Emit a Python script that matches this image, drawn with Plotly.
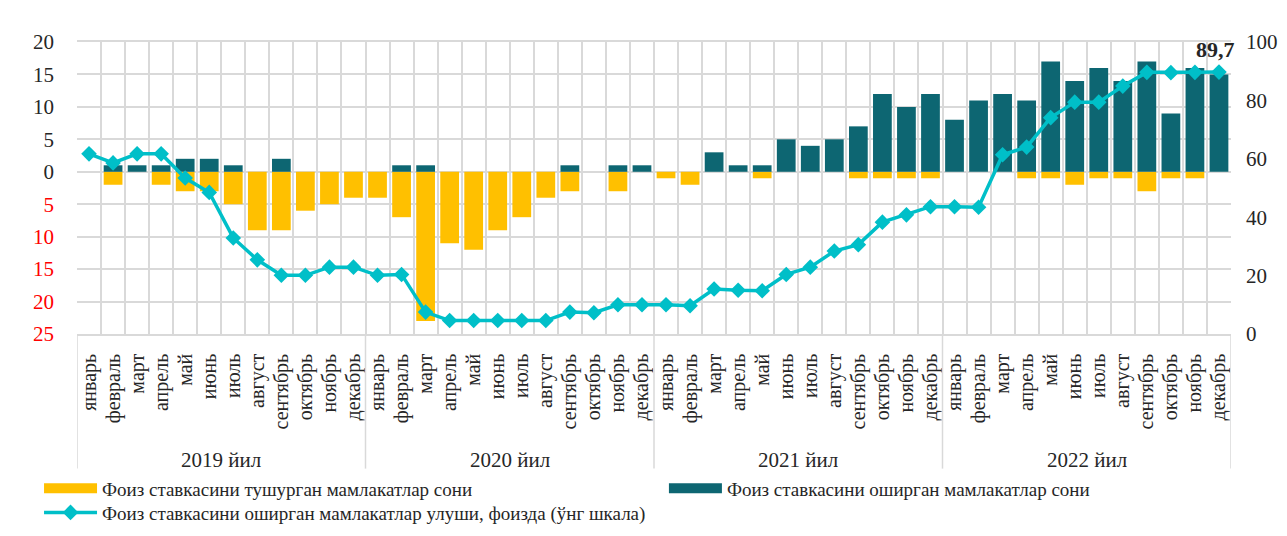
import plotly.graph_objects as go

months = ["январь", "февраль", "март", "апрель", "май", "июнь", "июль",
          "август", "сентябрь", "октябрь", "ноябрь", "декабрь"]
years = ["2019 йил", "2020 йил", "2021 йил", "2022 йил"]

# number of countries that cut the policy rate (shown below zero)
cut_2019 = [0, 2, 0, 2, 3, 3, 5, 9, 9, 6, 5, 4]
cut_2020 = [4, 7, 23, 11, 12, 9, 7, 4, 3, 0, 3, 0]
cut_2021 = [1, 2, 0, 0, 1, 0, 0, 0, 1, 1, 1, 1]
cut_2022 = [0, 0, 0, 1, 1, 2, 1, 1, 3, 1, 1, 0]

# number of countries that raised the policy rate
hike_2019 = [0, 1, 1, 1, 2, 2, 1, 0, 2, 0, 0, 0]
hike_2020 = [0, 1, 1, 0, 0, 0, 0, 0, 1, 0, 1, 1]
hike_2021 = [0, 0, 3, 1, 1, 5, 4, 5, 7, 12, 10, 12]
hike_2022 = [8, 11, 12, 11, 17, 14, 16, 14, 17, 9, 16, 15]

# share of countries that raised the rate, % (right axis)
share_2019 = [61.7, 58.6, 61.7, 61.7, 53.4, 48.5, 32.9, 25.4, 20.1, 20.1, 22.9, 22.9]
share_2020 = [20.1, 20.4, 7.5, 4.6, 4.6, 4.6, 4.6, 4.6, 7.5, 7.3, 10.0, 10.0]
share_2021 = [10.0, 9.7, 15.4, 15.0, 14.8, 20.4, 22.9, 28.4, 30.6, 38.3, 40.8, 43.6]
share_2022 = [43.6, 43.4, 61.4, 64.0, 74.1, 79.4, 79.4, 84.9, 89.6, 89.5, 89.6, 89.7]

left_ticks = [-25, -20, -15, -10, -5, 0, 5, 10, 15, 20]
right_ticks = [0, 20, 40, 60, 80, 100]

name_cut = "Фоиз ставкасини тушурган мамлакатлар сони"
name_hike = "Фоиз ставкасини оширган мамлакатлар сони"
name_share = "Фоиз ставкасини оширган мамлакатлар улуши, фоизда (ўнг шкала)"

cuts = cut_2019 + cut_2020 + cut_2021 + cut_2022
hikes = hike_2019 + hike_2020 + hike_2021 + hike_2022
share = share_2019 + share_2020 + share_2021 + share_2022
labels = months * len(years)
xs = list(range(len(labels)))

YELLOW = "#FFC000"
TEAL = "#0D6672"
CYAN = "#00BFC8"
GRID = "#D9D9D9"
TXT = "#262626"
FONT = "Liberation Serif, Times New Roman, serif"

fig = go.Figure()
fig.add_trace(go.Bar(x=xs, y=[-c for c in cuts], marker=dict(color=YELLOW, line=dict(width=0)),
                     name=name_cut, showlegend=False))
fig.add_trace(go.Bar(x=xs, y=hikes, marker=dict(color=TEAL, line=dict(width=0)),
                     name=name_hike, showlegend=False))
fig.add_trace(go.Scatter(x=xs, y=share, yaxis="y2", mode="lines+markers",
                         line=dict(color=CYAN, width=3.5),
                         marker=dict(symbol="diamond", size=12, color=CYAN),
                         name=name_share, legend="legend3"))

# legend swatches (wide rectangles like the original)
fig.add_trace(go.Scatter(x=[None], y=[None], mode="lines", line=dict(color=YELLOW, width=13),
                         name=name_cut, legend="legend"))
fig.add_trace(go.Scatter(x=[None], y=[None], mode="lines", line=dict(color=TEAL, width=13),
                         name=name_hike, legend="legend2"))

ticktext = [str(v) if v >= 0 else f'<span style="color:#FF0000">{abs(v)}</span>' for v in left_ticks]

n = len(labels)
leg_common = dict(orientation="v", yanchor="top", xanchor="left",
                  font=dict(size=19, family=FONT, color=TXT),
                  itemwidth=53, bgcolor="rgba(0,0,0,0)", tracegroupgap=0)
fig.update_layout(
    width=1287, height=536,
    # page body has an 8px default margin; offsets compensate so the plot sits where it should
    margin=dict(l=69, r=64, t=34, b=207),
    paper_bgcolor="white", plot_bgcolor="white",
    font=dict(family=FONT, color=TXT, size=20),
    barmode="relative", bargap=0.22,
    showlegend=True,
    legend=dict(x=-0.0329, y=-0.464, **leg_common),
    legend2=dict(x=0.5086, y=-0.464, **leg_common),
    legend3=dict(x=-0.0329, y=-0.5464, **leg_common),
    xaxis=dict(range=[-0.5, n - 0.5], tickmode="array", tickvals=xs, ticktext=labels,
               tickangle=-90, tickfont=dict(size=20, family=FONT, color=TXT),
               showgrid=False, zeroline=False, automargin=False,
               showline=True, mirror=True, linecolor=GRID, linewidth=1.5,
               ticks="", ticklabelstandoff=10,
               minor=dict(tick0=0.5, dtick=1, showgrid=True, gridcolor=GRID, gridwidth=1.5)),
    yaxis=dict(range=[-25, 20], tickmode="array", tickvals=left_ticks, ticktext=ticktext,
               tickfont=dict(size=21, family=FONT, color=TXT),
               showgrid=True, gridcolor=GRID, gridwidth=1.5, zeroline=False,
               automargin=False, ticklabelstandoff=22),
    yaxis2=dict(range=[0, 100], tickmode="array", tickvals=right_ticks, overlaying="y", side="right",
                tickfont=dict(size=21, family=FONT, color=TXT),
                showgrid=False, zeroline=False, automargin=False, ticklabelstandoff=14),
)

# year group labels and dividers below the month labels
for k, yl in enumerate(years):
    fig.add_annotation(x=k * 12 + 5.5, xref="x", y=-0.43, yref="paper", text=yl,
                       showarrow=False, font=dict(size=21, family=FONT, color=TXT),
                       yanchor="middle")
for k in range(len(years) + 1):
    fig.add_shape(type="line", xref="x", yref="paper", x0=k * 12 - 0.5, x1=k * 12 - 0.5,
                  y0=0, y1=-0.461, line=dict(color=GRID, width=1.5))

# chart-area left border
fig.add_shape(type="line", xref="paper", yref="paper", x0=-0.0607, x1=-0.0607,
              y0=1.15, y1=-0.68, line=dict(color=GRID, width=1.5))

# last value label
fig.add_annotation(x=xs[-1], y=share[-1], xref="x", yref="y2", text="<b>89,7</b>",
                   showarrow=False, yanchor="bottom", xanchor="center", xshift=-3, yshift=8,
                   font=dict(size=22, family=FONT, color=TXT))

fig.write_html("out.html")
